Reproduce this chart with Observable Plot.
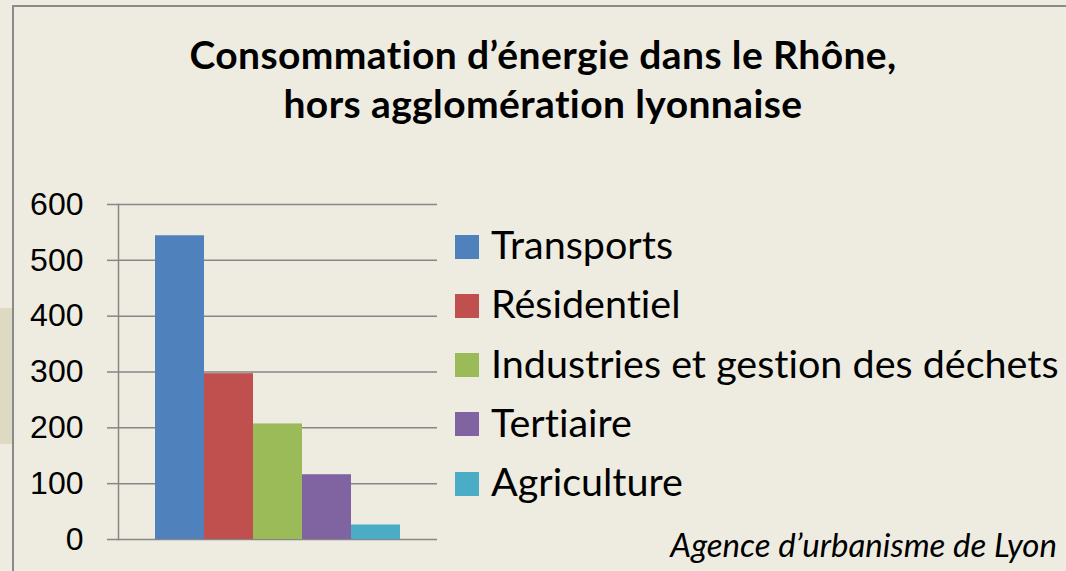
<!DOCTYPE html>
<html>
<head>
<meta charset="utf-8">
<script src="https://cdn.jsdelivr.net/npm/d3@7"></script>
<script src="https://cdn.jsdelivr.net/npm/@observablehq/plot@0.6"></script>
<style>
  html, body { margin: 0; padding: 0; background: #EEECE1; }
  #wrap { position: relative; width: 1066px; height: 571px; overflow: hidden; background: #EEECE1; font-variant-ligatures: none; font-feature-settings: "liga" 0, "clig" 0; }
  #tab { position: absolute; left: 0; top: 308px; width: 12px; height: 136px; background: #DDD9C3; }
  #border { position: absolute; left: 12px; top: 5px; width: 1100px; height: 600px; border-top: 2px solid #8a8a8a; border-left: 2px solid #8a8a8a; }
  #title { position: absolute; left: 0; width: 1086px; top: 30px; text-align: center; font-family: Lato, sans-serif; font-weight: bold; font-size: 39px; letter-spacing: 0.4px; line-height: 49px; color: #000; }
  #chart { position: absolute; left: 0; top: 180px; }
  #legend { position: absolute; left: 455px; top: 214px; font-family: Lato, sans-serif; font-size: 39.5px; color: #000; }
  .row { display: flex; align-items: center; height: 59.25px; line-height: 59px; white-space: nowrap; }
  .sw { width: 24px; height: 24px; margin-right: 12px; flex: none; position: relative; top: 3px; }
  #caption { position: absolute; right: 9px; top: 528px; font-family: Lato, sans-serif; font-style: italic; font-size: 33px; line-height: 33px; color: #000; white-space: nowrap; }
</style>
</head>
<body>
<div id="wrap">
  <div id="tab"></div>
  <div id="border"></div>
  <div id="title">Consommation d’énergie dans le Rhône,<br>hors agglomération lyonnaise</div>
  <div id="chart"></div>
  <div id="legend"></div>
  <div id="caption">Agence d’urbanisme de Lyon</div>
</div>
<script>
// Data
const categories = ["Transports", "Résidentiel", "Industries et gestion des déchets", "Tertiaire", "Agriculture"];
const values = [544, 297, 207, 116, 26];
const yTicks = [0, 100, 200, 300, 400, 500, 600];

// Styles
const palette = ["#4F81BD", "#C0504D", "#9BBB59", "#8064A2", "#4BACC6"];
const gridColor = "#868686";

const data = categories.map((c, i) => ({category: c, value: values[i]}));

const chart = Plot.plot({
  width: 450,
  height: 380,
  marginLeft: 118,
  marginRight: 13,
  marginTop: 24,
  marginBottom: 21,
  style: { background: "transparent", fontFamily: "'Liberation Sans', Arial, sans-serif", fontSize: "32px", color: "#000" },
  x: { domain: categories, axis: null, paddingInner: 0, paddingOuter: 0.74 },
  y: { domain: [0, 600], axis: null },
  color: { domain: categories, range: palette },
  marks: [
    Plot.ruleY(yTicks, { stroke: gridColor, strokeWidth: 1.5 }),
    Plot.barY(data, { x: "category", y: "value", fill: "category" }),
    Plot.axisY({ ticks: yTicks, tickSize: 11, tickPadding: 24, stroke: gridColor, strokeWidth: 1.5, fill: "#000", label: null, tickFormat: d => String(d) }),
    Plot.frame({ anchor: "left", stroke: gridColor, strokeWidth: 1.5 })
  ]
});
document.getElementById("chart").appendChild(chart);

// Legend built from the same arrays
const legend = document.getElementById("legend");
categories.forEach((c, i) => {
  const row = document.createElement("div");
  row.className = "row";
  const sw = document.createElement("span");
  sw.className = "sw";
  sw.style.background = palette[i];
  const label = document.createElement("span");
  label.textContent = c;
  row.appendChild(sw);
  row.appendChild(label);
  legend.appendChild(row);
});
</script>
</body>
</html>
